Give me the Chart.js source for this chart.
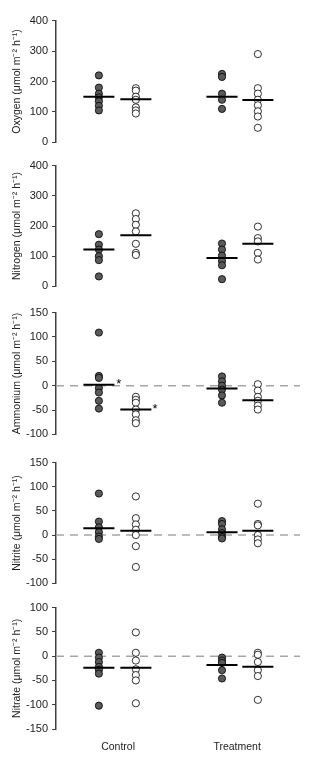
<!DOCTYPE html>
<html>
<head>
<meta charset="utf-8">
<script src="https://cdn.jsdelivr.net/npm/chart.js@4.4.1/dist/chart.umd.min.js"></script>
<style>
  body { margin: 0; background: #fff; }
  #wrap { position: relative; width: 311px; height: 768px; }
  canvas { position: absolute; left: 0; }
</style>
</head>
<body>
<div id="wrap">
  <canvas id="c0"></canvas>
  <canvas id="c1"></canvas>
  <canvas id="c2"></canvas>
  <canvas id="c3"></canvas>
  <canvas id="c4"></canvas>
</div>
<script>
var groups = ["Control", "Treatment"];

// oxygen
var oxyCtrlFilled = [220, 180, 160, 148, 135, 120, 105];
var oxyCtrlOpen = [178, 170, 150, 140, 115, 105, 95];
var oxyTrtFilled = [225, 215, 160, 140, 110];
var oxyTrtOpen = [290, 178, 160, 140, 122, 102, 85, 48];
var oxyMeans = [150, 142, 150, 139];
var oxyTicks = [0, 400, 100];

// nitrogen
var nitCtrlFilled = [173, 138, 122, 100, 87, 33];
var nitCtrlOpen = [242, 223, 204, 182, 141, 111, 104];
var nitTrtFilled = [142, 122, 102, 84, 70, 24];
var nitTrtOpen = [198, 160, 149, 111, 89];
var nitMeans = [122, 169, 94, 141];
var nitTicks = [0, 400, 100];

// ammonium
var ammCtrlFilled = [109, 20, 16, -5, -14, -31, -47];
var ammCtrlOpen = [-23, -29, -35, -49, -59, -71, -77];
var ammTrtFilled = [19, 9, 0, -8, -20, -35];
var ammTrtOpen = [3, -10, -23, -31, -41, -49];
var ammMeans = [2, -49, -6, -30];
var ammTicks = [-100, 150, 50];

// nitrite
var nitriteCtrlFilled = [86, 28, 16, 6, -3, -8];
var nitriteCtrlOpen = [80, 35, 22, 11, 0, -23, -66];
var nitriteTrtFilled = [29, 23, 12, 4, -4, -7];
var nitriteTrtOpen = [65, 23, 20, 0, -9, -17];
var nitriteMeans = [14, 9, 6, 9];
var nitriteTicks = [-100, 150, 50];

// nitrate
var nitrateCtrlFilled = [7, -3, -12, -22, -28, -36, -102];
var nitrateCtrlOpen = [49, 7, -9, -27, -39, -50, -97];
var nitrateTrtFilled = [-3, -9, -14, -29, -46];
var nitrateTrtOpen = [7, 3, -12, -29, -41, -90];
var nitrateMeans = [-24, -24, -18, -22];
var nitrateTicks = [-150, 100, 50];

// significance marks (x in axis units, y in data units)
var ammStars = [[1.70, 9], [2.68, -42]];

var GX = [1.16, 2.16, 4.49, 5.46];
var LABEL_X = [1.68, 4.9];
var XMAX = 6.6;
var HALF = 0.42;
var FONT = "'Liberation Sans', Arial, sans-serif";

var panels = [
  { title: "Oxygen (\u03bcmol m\u207b\u00b2 h\u207b\u00b9)", series: [oxyCtrlFilled, oxyCtrlOpen, oxyTrtFilled, oxyTrtOpen], means: oxyMeans, ticks: oxyTicks, zero: false, top: 20, bottom: 143 },
  { title: "Nitrogen (\u03bcmol m\u207b\u00b2 h\u207b\u00b9)", series: [nitCtrlFilled, nitCtrlOpen, nitTrtFilled, nitTrtOpen], means: nitMeans, ticks: nitTicks, zero: false, top: 165, bottom: 287 },
  { title: "Ammonium (\u03bcmol m\u207b\u00b2 h\u207b\u00b9)", series: [ammCtrlFilled, ammCtrlOpen, ammTrtFilled, ammTrtOpen], means: ammMeans, ticks: ammTicks, zero: true, top: 312, bottom: 435, stars: ammStars },
  { title: "Nitrite (\u03bcmol m\u207b\u00b2 h\u207b\u00b9)", series: [nitriteCtrlFilled, nitriteCtrlOpen, nitriteTrtFilled, nitriteTrtOpen], means: nitriteMeans, ticks: nitriteTicks, zero: true, top: 462, bottom: 584 },
  { title: "Nitrate (\u03bcmol m\u207b\u00b2 h\u207b\u00b9)", series: [nitrateCtrlFilled, nitrateCtrlOpen, nitrateTrtFilled, nitrateTrtOpen], means: nitrateMeans, ticks: nitrateTicks, zero: true, top: 607, bottom: 729 }
];

var starPlugin = {
  id: 'stars',
  afterDatasetsDraw: function(chart, args, opts) {
    if (!opts.marks) return;
    var ctx = chart.ctx;
    ctx.save();
    ctx.fillStyle = '#000';
    ctx.font = '13px ' + FONT;
    ctx.textAlign = 'center';
    ctx.textBaseline = 'middle';
    opts.marks.forEach(function(m) {
      ctx.fillText('*', chart.scales.x.getPixelForValue(m[0]), chart.scales.y.getPixelForValue(m[1]) + 3);
    });
    ctx.restore();
  }
};

panels.forEach(function(p, k) {
  var last = k === panels.length - 1;
  var cv = document.getElementById('c' + k);
  var h = p.bottom - p.top + 20 + (last ? 29 : 0);
  cv.width = 311;
  cv.height = h;
  cv.style.top = (p.top - 10) + 'px';

  var datasets = [];
  p.series.forEach(function(s, i) {
    datasets.push({
      data: s.map(function(v) { return { x: GX[i], y: v }; }),
      pointRadius: 3.6,
      pointBackgroundColor: i % 2 === 0 ? '#5a5a5a' : '#ffffff',
      pointBorderColor: '#000',
      pointBorderWidth: 0.8,
      order: 1
    });
    datasets.push({
      data: [{ x: GX[i] - HALF, y: p.means[i] }, { x: GX[i] + HALF, y: p.means[i] }],
      showLine: true,
      borderColor: '#000',
      borderWidth: 2,
      pointRadius: 0,
      order: 0
    });
  });
  if (p.zero) {
    datasets.push({
      data: [{ x: 0, y: 0 }, { x: XMAX, y: 0 }],
      showLine: true,
      borderColor: '#a6a6a6',
      borderWidth: 1.5,
      borderDash: [8, 6],
      pointRadius: 0,
      order: 2
    });
  }

  new Chart(cv, {
    type: 'scatter',
    data: { datasets: datasets },
    plugins: [starPlugin],
    options: {
      responsive: false,
      animation: false,
      devicePixelRatio: 1,
      layout: { padding: { top: 10, bottom: 10, left: 0, right: 11 } },
      plugins: {
        legend: { display: false },
        tooltip: { enabled: false },
        stars: { marks: p.stars }
      },
      scales: {
        x: {
          type: 'linear',
          min: 0,
          max: XMAX,
          display: last,
          grid: { display: false, drawTicks: false },
          border: { display: false },
          afterBuildTicks: function(s) {
            s.ticks = LABEL_X.map(function(v) { return { value: v }; });
          },
          afterFit: function(s) { s.height = last ? 29 : 0; },
          ticks: {
            padding: 12,
            maxRotation: 0,
            color: '#222',
            font: { family: FONT, size: 10.5 },
            callback: function(v, i) { return groups[i]; }
          }
        },
        y: {
          min: p.ticks[0],
          max: p.ticks[1],
          ticks: {
            stepSize: p.ticks[2],
            padding: 4,
            color: '#222',
            font: { family: FONT, size: 11 }
          },
          grid: { display: true, drawOnChartArea: false, tickLength: 4, tickColor: '#404040', lineWidth: 1 },
          border: { display: true, color: '#404040', width: 1.5 },
          title: {
            display: true,
            text: p.title,
            color: '#222',
            font: { family: FONT, size: 10.5 },
            padding: { top: 11, bottom: 0 }
          },
          afterFit: function(s) { s.width = 56; }
        }
      }
    }
  });
});
</script>
</body>
</html>
